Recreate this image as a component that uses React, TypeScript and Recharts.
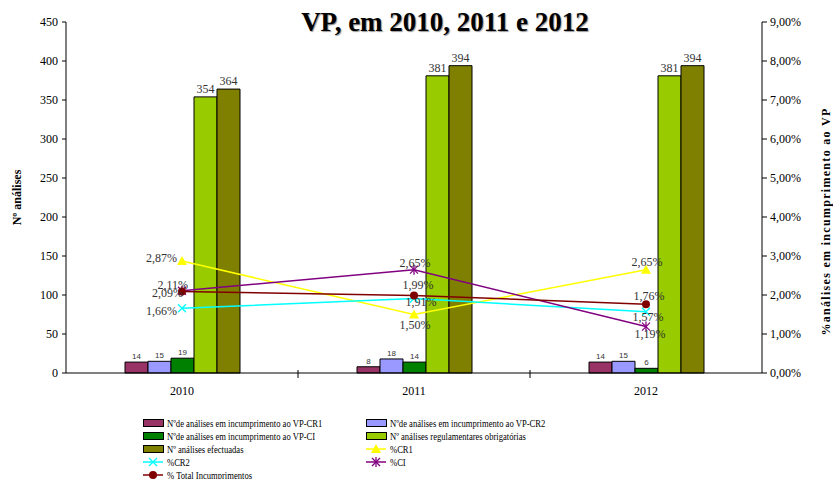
import React from "react";
import {
  ComposedChart,
  Bar,
  Line,
  XAxis,
  YAxis,
  LabelList,
  Legend,
} from "recharts";

const years = ["2010", "2011", "2012"];

// counts (left axis)
const cr1Counts = [14, 8, 14];
const cr2Counts = [15, 18, 15];
const ciCounts = [19, 14, 6];
const mandatoryCounts = [354, 381, 381];
const performedCounts = [364, 394, 394];

// percentages (right axis), in %
const pctCR1 = [2.87, 1.5, 2.65];
const pctCR2 = [1.66, 1.91, 1.57];
const pctCI = [2.11, 2.65, 1.19];
const pctTotal = [2.09, 1.99, 1.76];

const countTicks = [0, 50, 100, 150, 200, 250, 300, 350, 400, 450];
const pctTicks = [0, 1, 2, 3, 4, 5, 6, 7, 8, 9];

const data = years.map((year, i) => ({
  year,
  cr1: cr1Counts[i],
  cr2: cr2Counts[i],
  ci: ciCounts[i],
  mandatory: mandatoryCounts[i],
  performed: performedCounts[i],
  pCR1: pctCR1[i],
  pCR2: pctCR2[i],
  pCI: pctCI[i],
  pTotal: pctTotal[i],
}));

const SERIF = '"Liberation Serif", "Times New Roman", serif';
const SANS = '"Liberation Sans", Arial, sans-serif';

const W = 833;
const H = 479;
const LEFT_W = 66;
const RIGHT_W = 71;
const BAND = (W - LEFT_W - RIGHT_W) / years.length;

const fmtPct = (v: number) => v.toFixed(2).replace(".", ",") + "%";

const bars = [
  { key: "cr1", name: "Nºde análises em incumprimento ao VP-CR1", color: "#993366", small: true },
  { key: "cr2", name: "Nºde análises em incumprimento ao VP-CR2", color: "#9999FF", small: true },
  { key: "ci", name: "Nºde análises em incumprimento ao VP-CI", color: "#008000", small: true },
  { key: "mandatory", name: "Nº análises regulamentares obrigatórias", color: "#99CC00", small: false },
  { key: "performed", name: "Nº análises efectuadas", color: "#808000", small: false },
];

// label offsets per point: [dx, dy, anchor]
const lines = [
  { key: "pCR1", name: "%CR1", color: "#FFFF00", marker: "triangle",
    labels: [[-5, -3, "end"], [1, 10.5, "middle"], [1, -8, "middle"]] },
  { key: "pCR2", name: "%CR2", color: "#00FFFF", marker: "cross",
    labels: [[-5, 3, "end"], [7, 3.5, "middle"], [2, 5, "middle"]] },
  { key: "pCI", name: "%CI", color: "#800080", marker: "star",
    labels: [[6, -6, "end"], [1, -7, "middle"], [4, 7.5, "middle"]] },
  { key: "pTotal", name: "% Total Incumprimentos", color: "#800000", marker: "circle",
    labels: [[1, 1.5, "end"], [4, -10, "middle"], [3, -8, "middle"]] },
];

function Marker({ type, cx, cy, color }: any) {
  if (type === "triangle") {
    return (
      <polygon
        points={`${cx},${cy - 5} ${cx - 5},${cy + 4} ${cx + 5},${cy + 4}`}
        fill={color}
      />
    );
  }
  if (type === "cross") {
    return (
      <g stroke={color} strokeWidth={1.3}>
        <line x1={cx - 4} y1={cy - 4} x2={cx + 4} y2={cy + 4} />
        <line x1={cx - 4} y1={cy + 4} x2={cx + 4} y2={cy - 4} />
      </g>
    );
  }
  if (type === "star") {
    return (
      <g stroke={color} strokeWidth={1.3}>
        <line x1={cx - 4} y1={cy - 4} x2={cx + 4} y2={cy + 4} />
        <line x1={cx - 4} y1={cy + 4} x2={cx + 4} y2={cy - 4} />
        <line x1={cx} y1={cy - 5} x2={cx} y2={cy + 5} />
      </g>
    );
  }
  return <circle cx={cx} cy={cy} r={4} fill={color} />;
}

function makeDot(type: string, color: string) {
  return (props: any) => (
    <g key={`${type}-${props.index}`}>
      <Marker type={type} cx={props.cx} cy={props.cy} color={color} />
    </g>
  );
}

function makeLineLabel(offsets: any[]) {
  return (props: any) => {
    const { x, y, value, index } = props;
    const [dx, dy, anchor] = offsets[index];
    return (
      <text
        x={x + dx}
        y={y + dy + 4}
        textAnchor={anchor}
        fontFamily={SERIF}
        fontSize={12}
        fill="#333"
      >
        {fmtPct(value)}
      </text>
    );
  };
}

// year label plus the small separator tick between categories
function YearTick(props: any) {
  const { x, y, payload, index } = props;
  const sepX = x + BAND / 2;
  return (
    <g>
      <text x={x} y={y} dy="0.71em" textAnchor="middle" fontFamily={SERIF} fontSize={12} fill="#000">
        {payload.value}
      </text>
      {index < years.length - 1 && (
        <line x1={sepX} y1={H - 106 - 3} x2={sepX} y2={H - 106 + 5} stroke="#000" />
      )}
    </g>
  );
}

function LegendSwatch({ item }: any) {
  if (item.kind === "bar") {
    return (
      <span
        style={{
          display: "inline-block",
          width: 19,
          height: 6,
          background: item.color,
          border: "1px solid #000",
          marginRight: 3,
          verticalAlign: "middle",
        }}
      />
    );
  }
  return (
    <svg width={20} height={10} style={{ marginRight: 4, verticalAlign: "middle" }}>
      <line x1={0} y1={5} x2={20} y2={5} stroke={item.color} strokeWidth={1.5} />
      <Marker type={item.marker} cx={10} cy={5} color={item.color} />
    </svg>
  );
}

function LegendBox() {
  const items = [
    ...bars.map((b) => ({ ...b, kind: "bar" })),
    ...lines.map((l) => ({ ...l, kind: "line" })),
  ];
  return (
    <div
      style={{
        display: "grid",
        gridTemplateColumns: "223px 240px",
        fontFamily: SERIF,
        fontSize: 11,
        color: "#000",
      }}
    >
      {items.map((item) => (
        <div key={item.key} style={{ height: 13, lineHeight: "13px", whiteSpace: "nowrap" }}>
          <LegendSwatch item={item} />
          <span
            style={{
              display: "inline-block",
              verticalAlign: "middle",
              transform: "scaleX(0.78)",
              transformOrigin: "left center",
            }}
          >
            {item.name}
          </span>
        </div>
      ))}
    </div>
  );
}

export default function App() {
  return (
    <div style={{ position: "absolute", left: 0, top: 0, width: W, height: H, background: "#fff" }}>
      <div
        style={{
          position: "absolute",
          left: 245,
          top: 8,
          width: 400,
          textAlign: "center",
          fontFamily: SERIF,
          fontWeight: "bold",
          fontSize: 27,
          lineHeight: "28px",
          color: "#000",
          textShadow: "1px 1px 1px #999",
          zIndex: 2,
        }}
      >
        VP, em 2010, 2011 e 2012
      </div>
      <ComposedChart
        width={W}
        height={H}
        data={data}
        margin={{ top: 22, right: 0, bottom: 0, left: 0 }}
        barGap={0}
        barCategoryGap="25%"
      >
        <XAxis
          dataKey="year"
          height={106}
          tickLine={false}
          tickSize={8}
          tickMargin={5}
          axisLine={{ stroke: "#000" }}
          tick={<YearTick />}
        />
        <YAxis
          yAxisId="left"
          width={LEFT_W}
          domain={[0, 450]}
          ticks={countTicks}
          interval={0}
          tickSize={4}
          tickMargin={4}
          axisLine={{ stroke: "#000" }}
          tickLine={{ stroke: "#000" }}
          tick={{ fill: "#000", fontFamily: SERIF, fontSize: 12 }}
          label={{
            content: ({ viewBox }: any) => {
              const cx = viewBox.x + 17;
              const cy = viewBox.y + viewBox.height / 2;
              return (
                <text
                  x={cx}
                  y={cy}
                  transform={`rotate(-90, ${cx}, ${cy})`}
                  textAnchor="middle"
                  dominantBaseline="central"
                  fontFamily={SERIF}
                  fontWeight="bold"
                  fontSize={12}
                  fill="#000"
                >
                  Nº análises
                </text>
              );
            },
          }}
        />
        <YAxis
          yAxisId="right"
          orientation="right"
          width={RIGHT_W}
          domain={[0, 9]}
          ticks={pctTicks}
          interval={0}
          tickSize={5}
          tickMargin={3}
          tickFormatter={fmtPct}
          axisLine={{ stroke: "#000" }}
          tickLine={{ stroke: "#000" }}
          tick={{ fill: "#000", fontFamily: SERIF, fontSize: 12 }}
          label={{
            content: ({ viewBox }: any) => {
              const cx = viewBox.x + 64;
              const cy = viewBox.y + viewBox.height / 2 + 24;
              return (
                <text
                  x={cx}
                  y={cy}
                  transform={`rotate(-90, ${cx}, ${cy})`}
                  textAnchor="middle"
                  dominantBaseline="central"
                  fontFamily={SERIF}
                  fontWeight="bold"
                  fontSize={12}
                  letterSpacing={1.3}
                  fill="#000"
                >
                  %análises em incumprimento ao VP
                </text>
              );
            },
          }}
        />
        <Legend
          layout="horizontal"
          verticalAlign="middle"
          align="center"
          wrapperStyle={{ position: "absolute", left: 143, top: 416, width: 470, height: 65 }}
          content={() => <LegendBox />}
        />
        {bars.map((b) => (
          <Bar
            key={b.key}
            yAxisId="left"
            dataKey={b.key}
            name={b.name}
            fill={b.color}
            stroke="#000"
            strokeWidth={1}
            barSize={23}
            isAnimationActive={false}
          >
            <LabelList
              dataKey={b.key}
              position="top"
              offset={b.small ? 3 : 4}
              fill="#333"
              fontFamily={b.small ? SANS : SERIF}
              fontSize={b.small ? 8 : 12}
            />
          </Bar>
        ))}
        {lines.map((l) => (
          <Line
            key={l.key}
            yAxisId="right"
            type="linear"
            dataKey={l.key}
            name={l.name}
            stroke={l.color}
            strokeWidth={1.5}
            dot={makeDot(l.marker, l.color)}
            activeDot={false}
            isAnimationActive={false}
          >
            <LabelList dataKey={l.key} content={makeLineLabel(l.labels)} />
          </Line>
        ))}
      </ComposedChart>
    </div>
  );
}
